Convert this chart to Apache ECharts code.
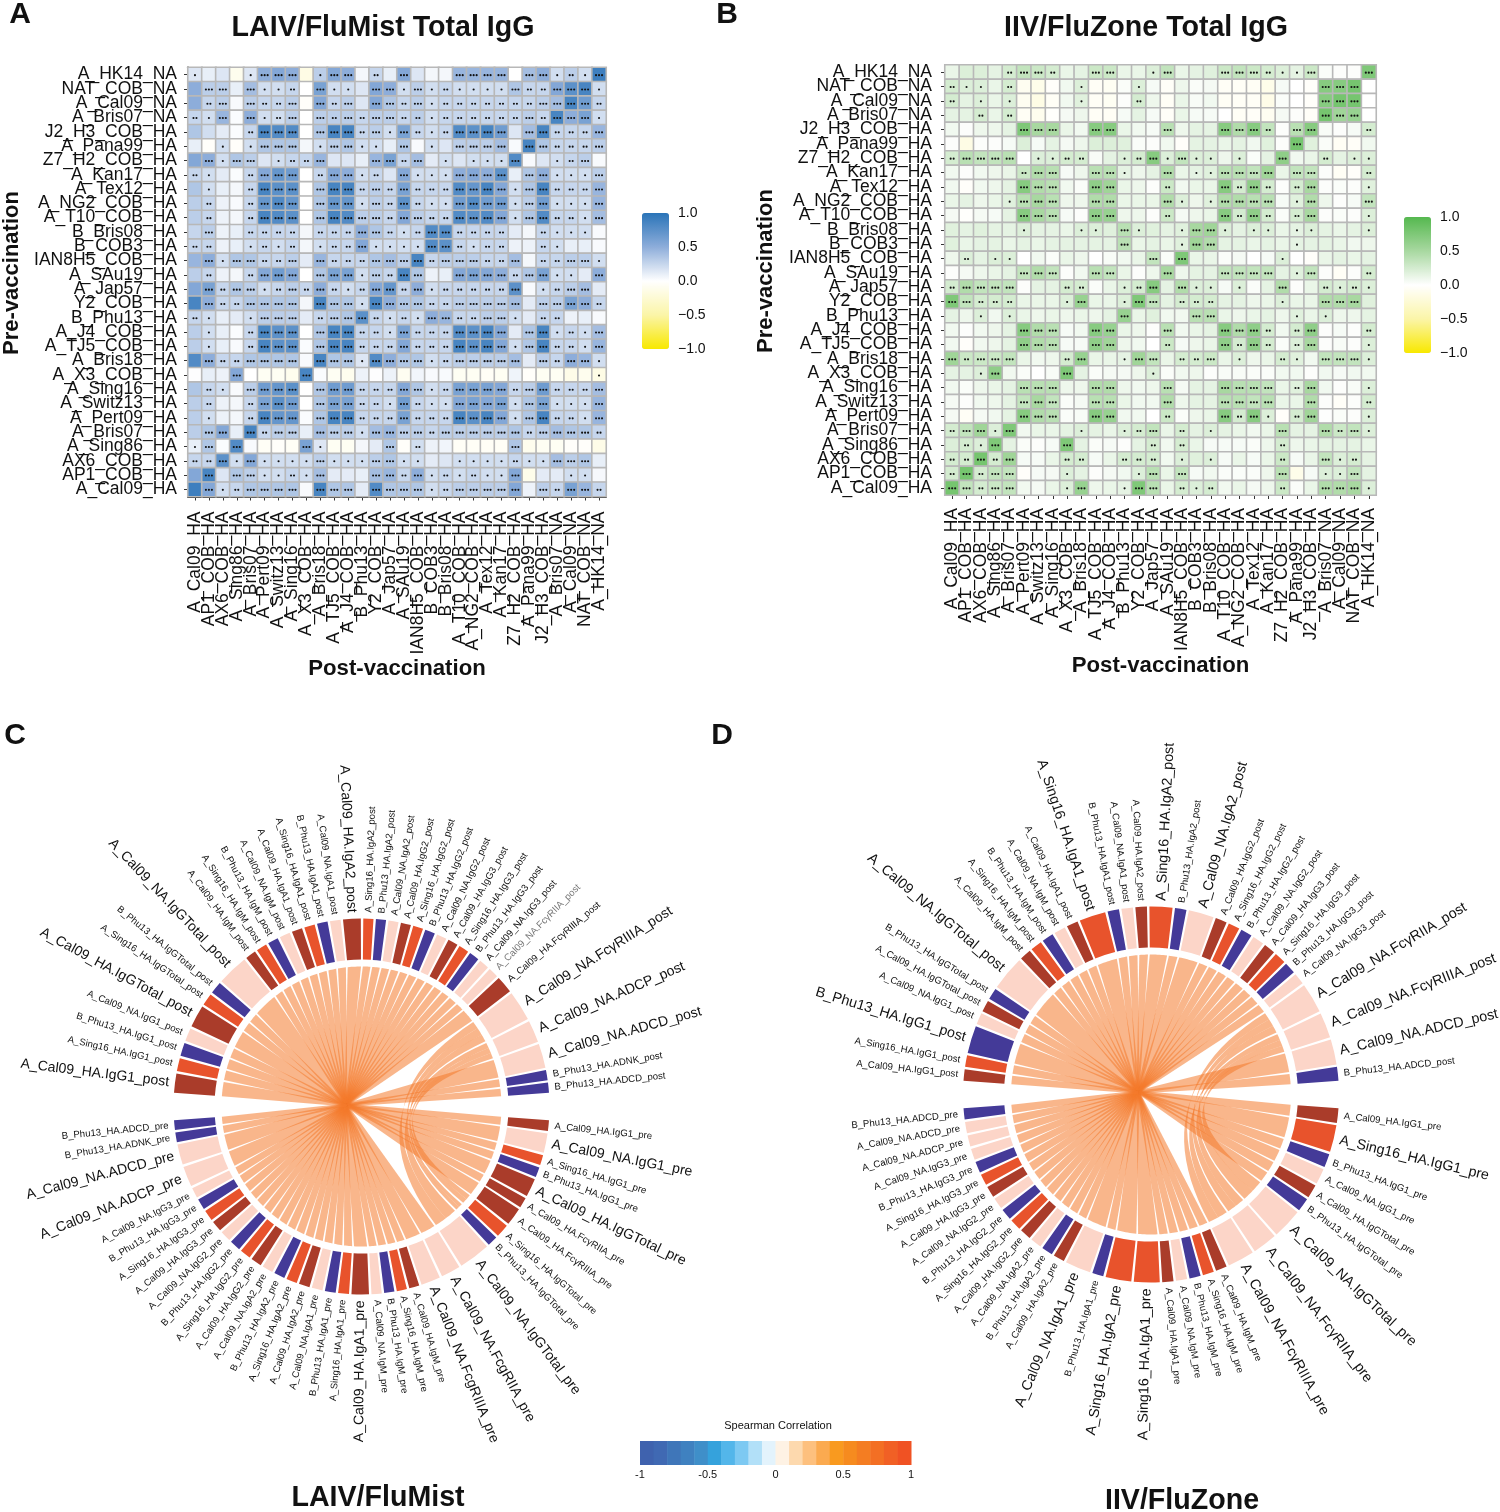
<!DOCTYPE html>
<html><head><meta charset="utf-8">
<style>html,body{margin:0;padding:0;background:#fff}#c{width:1500px;height:1512px}</style>
<script src="https://cdn.jsdelivr.net/npm/echarts@6/dist/echarts.min.js"></script>
</head><body><div id="c"></div>
<script>
const FONT = '"Liberation Sans",Arial,sans-serif';

// ---- Heatmap axes
const antigens = ["A_Cal09_HA","AP1_COB_HA","AX6_COB_HA","A_Sing86_HA","A_Bris07_HA","A_Pert09_HA","A_Switz13_HA","A_Sing16_HA","A_X3_COB_HA","A_Bris18_HA","A_TJ5_COB_HA","A_J4_COB_HA","B_Phu13_HA","Y2_COB_HA","A_Jap57_HA","A_SAu19_HA","IAN8H5_COB_HA","B_COB3_HA","B_Bris08_HA","A_T10_COB_HA","A_NG2_COB_HA","A_Tex12_HA","A_Kan17_HA","Z7_H2_COB_HA","A_Pana99_HA","J2_H3_COB_HA","A_Bris07_NA","A_Cal09_NA","NAT_COB_NA","A_HK14_NA"];

// ---- Panel A: rows top to bottom (A_HK14_NA ... A_Cal09_HA), correlation x100
const laivValues = [
[15,10,15,-10,15,50,55,50,-15,30,55,50,5,25,10,55,15,5,5,45,45,45,45,0,40,50,20,30,20,90],
[50,30,30,10,40,20,20,25,0,60,20,20,15,55,50,20,30,20,25,20,20,20,20,35,25,25,55,75,85,20],
[50,25,30,3,30,25,25,30,-3,55,25,30,15,55,35,25,30,20,25,25,25,25,25,25,25,30,40,85,65,25],
[25,20,45,2,50,20,20,30,0,30,30,30,25,30,30,25,30,20,25,25,25,25,25,25,30,25,85,50,60,20],
[35,20,12,2,25,85,80,80,0,35,85,85,25,30,20,60,25,20,25,80,75,85,65,15,40,85,25,25,25,45],
[10,-3,20,-3,20,35,35,35,5,20,30,35,20,20,10,35,3,20,15,30,30,30,40,3,85,35,25,25,25,30],
[55,50,20,35,30,15,20,25,25,45,15,15,10,45,60,25,40,12,20,15,20,20,20,80,3,15,20,25,30,3],
[25,20,12,2,25,55,70,65,0,25,55,50,20,25,15,55,20,20,20,50,55,50,75,10,35,50,20,20,20,30],
[35,20,10,5,25,85,75,75,0,35,85,85,25,30,25,60,25,25,25,80,70,85,55,20,35,85,25,25,25,45],
[30,25,8,3,25,70,80,70,0,35,70,70,20,30,25,75,25,20,20,65,80,65,65,20,30,65,20,20,20,45],
[30,25,8,5,25,85,80,75,0,35,85,80,30,30,25,55,30,25,25,80,75,80,55,20,35,80,25,25,20,40],
[25,30,8,10,25,25,25,25,5,25,25,25,50,35,25,20,25,80,80,25,25,25,25,12,5,25,20,20,20,3],
[25,25,8,10,20,25,20,25,5,20,25,25,55,20,20,20,20,80,75,25,20,25,25,8,8,25,20,10,10,3],
[45,50,20,35,35,25,25,30,12,45,25,25,25,35,40,30,85,25,30,30,30,25,25,40,5,25,25,30,30,20],
[30,25,8,5,25,55,65,55,0,35,60,60,20,30,25,85,35,8,10,55,60,55,50,25,35,60,20,20,12,50],
[55,60,25,35,30,20,25,30,25,50,25,20,25,55,70,25,50,20,25,25,25,25,25,75,3,20,25,30,40,12],
[85,50,25,25,35,35,35,35,5,85,35,35,20,85,50,35,35,25,25,30,30,30,30,40,12,30,30,60,50,25],
[25,20,10,12,20,30,30,30,12,25,30,35,75,25,20,25,20,50,45,25,25,30,30,20,12,25,25,8,10,3],
[30,20,10,2,25,85,75,75,0,35,85,85,25,25,20,60,25,25,25,80,75,85,55,12,35,85,20,25,20,40],
[30,20,10,3,25,85,75,75,2,35,85,85,25,25,25,55,25,25,25,85,75,85,55,20,35,85,25,25,20,45],
[80,50,25,25,35,35,35,35,3,85,35,35,15,80,50,35,35,20,25,30,30,30,30,40,12,30,25,50,45,20],
[1,10,8,55,0,-7,-7,-10,85,2,-7,-10,8,1,8,-8,6,3,3,-7,-7,-5,-7,7,-3,-7,-7,-13,-10,-15],
[35,25,20,3,30,65,70,75,0,35,65,65,25,25,25,55,35,20,25,60,60,60,55,25,30,65,25,25,25,40],
[30,25,8,5,25,60,75,65,0,35,60,60,25,25,20,65,25,20,20,55,60,55,60,20,35,60,20,20,20,45],
[30,20,8,5,25,85,70,70,2,35,85,85,25,25,25,60,25,25,25,85,75,85,55,20,35,85,25,25,20,45],
[30,35,55,10,85,25,30,30,10,40,30,30,20,40,45,30,30,25,30,30,30,30,30,35,25,30,40,35,35,25],
[10,35,2,80,3,-5,-3,-5,60,15,-7,-7,5,12,35,-3,20,8,6,-5,-5,-5,-5,35,-10,-7,-7,-3,-3,-13],
[25,25,75,20,55,20,20,20,20,30,20,20,20,30,35,20,20,12,15,20,20,20,20,25,20,20,40,30,35,10],
[55,85,15,35,30,20,20,25,20,40,12,12,10,40,45,25,50,20,25,20,25,20,20,55,-12,12,12,20,20,4],
[90,55,20,25,35,35,35,35,3,85,35,35,12,80,35,35,35,20,25,30,30,30,30,55,8,30,25,60,45,25]
];
// significance stars per cell, same order
const laivStars = [
"10001 33301 33020 30003 33303 31213",
"03303 11203 11033 13121 11132 23331",
"02303 22303 23033 23122 22222 33332",
"21303 12303 23233 22122 22223 23331",
"00002 33303 33231 32123 33303 32223",
"00101 33301 33110 30103 33303 32223",
"03133 01223 00033 23010 11130 01230",
"21002 33302 33120 31113 33303 31113",
"01002 33303 33232 32223 33313 32223",
"02002 33303 33132 32113 33313 31113",
"02002 33303 33332 33223 33313 32213",
"03002 22202 22332 12332 22200 21110",
"22001 21201 22311 11332 12200 21000",
"03133 22303 22233 33233 32230 22331",
"02002 33303 33132 33003 33323 31103",
"03233 12323 21233 23122 22230 12330",
"03223 33303 33133 33223 33330 33332",
"21001 33302 33321 21332 23310 22000",
"01002 33303 33221 32223 33303 31213",
"01002 33303 33222 32223 33313 32213",
"03223 33303 33133 33123 33330 32331",
"00030 00030 00000 00000 00000 00001",
"02103 33303 33222 33123 33323 32223",
"02002 33303 33221 32113 33313 31113",
"01002 33303 33222 32223 33313 32213",
"03303 23303 33133 33233 33332 33332",
"13030 00031 00003 02000 00030 00000",
"22313 11113 11133 11001 11121 13330",
"03033 11213 00033 23121 21130 00110",
"03123 33303 33033 33123 33330 32332"
];

// ---- Panel B
const iivValues = [
[12,20,20,15,25,35,30,25,12,15,30,30,12,12,20,35,12,15,18,30,35,30,25,20,15,30,3,2,2,75],
[25,20,20,12,25,-8,-12,-3,8,20,-5,-7,3,20,5,-4,10,3,6,-5,-5,-6,-12,5,0,-3,70,70,80,0],
[25,15,20,12,20,-8,-15,-5,8,18,-5,-7,2,25,10,-5,12,4,8,-6,-5,-5,-13,3,0,-3,70,80,80,0],
[15,15,25,12,25,-6,-10,-2,6,10,-5,-6,5,15,5,-4,12,5,5,0,-5,-4,-8,6,2,-4,80,55,60,0],
[8,2,10,10,15,75,50,50,12,8,70,70,12,8,5,40,10,15,15,70,45,70,35,2,40,70,4,2,5,25],
[2,-15,2,2,5,20,5,15,6,10,20,20,18,3,2,8,-3,15,15,12,15,8,18,2,80,18,3,-6,-4,8],
[25,40,35,35,40,0,20,20,25,25,4,15,20,25,70,20,35,20,20,10,20,3,15,65,8,12,25,15,20,20],
[8,2,8,10,12,30,45,40,5,10,40,40,15,10,15,45,12,15,18,40,40,35,55,12,35,35,2,-6,-3,25],
[8,-3,8,10,15,70,45,40,8,3,65,55,12,10,2,30,8,12,12,70,25,65,25,2,25,50,2,3,2,18],
[12,15,10,12,18,40,50,40,10,10,45,45,12,12,12,45,20,10,18,45,45,40,40,5,18,45,10,2,5,35],
[6,-2,6,5,15,70,50,40,5,2,65,60,10,10,2,30,6,10,12,70,25,65,25,3,25,50,2,3,2,20],
[18,15,18,15,15,20,15,15,12,20,20,18,40,20,18,15,18,50,55,20,15,20,20,12,15,20,15,12,15,20],
[18,12,15,15,12,15,12,15,15,15,15,15,40,12,15,12,18,55,45,15,15,12,15,12,15,15,15,12,8,10],
[10,20,15,20,20,0,8,3,12,10,0,4,8,12,35,3,75,12,12,3,6,0,5,20,0,-3,12,15,12,15],
[2,6,10,12,15,35,45,35,2,8,40,35,12,2,10,50,10,15,15,35,35,35,35,15,18,35,2,-5,2,25],
[25,45,35,35,35,2,15,15,25,25,3,12,20,25,70,15,45,20,20,5,20,3,15,45,2,12,25,20,25,20],
[75,35,25,25,25,12,12,12,20,60,12,12,20,75,35,15,25,25,25,15,15,10,12,20,12,12,45,45,50,18],
[15,10,20,8,20,12,10,12,10,12,10,15,60,12,18,8,8,40,40,12,10,12,15,10,18,12,20,10,10,15],
[8,2,8,10,15,70,45,40,5,8,70,60,12,10,2,40,8,12,15,70,45,65,25,8,25,65,2,5,2,25],
[8,-3,8,10,15,65,45,40,5,5,65,55,10,8,0,30,5,10,12,65,25,65,25,3,20,50,2,4,2,20],
[55,30,30,30,35,12,8,10,25,60,12,12,15,55,35,12,25,25,30,12,20,10,12,25,18,8,35,35,35,20],
[15,15,20,65,8,3,0,4,75,15,3,6,6,10,20,3,8,10,2,4,4,3,3,8,8,2,8,5,8,8],
[8,3,10,12,15,40,40,40,10,10,45,45,10,8,10,40,6,15,15,50,40,40,35,12,18,50,8,2,4,20],
[6,2,8,10,15,35,50,35,3,6,40,40,12,8,8,45,10,15,15,40,40,35,40,12,12,45,2,-4,2,25],
[6,-5,6,8,15,70,45,40,3,4,70,60,8,8,0,30,3,10,12,70,25,70,20,-3,25,55,1,3,2,20],
[25,35,55,20,75,8,12,12,15,20,15,12,20,25,35,12,25,15,20,15,12,8,12,40,15,15,45,30,35,20],
[20,25,20,75,15,3,2,5,75,15,3,5,2,15,25,8,25,12,5,5,5,3,10,25,10,12,15,15,15,12],
[25,25,80,25,55,5,5,12,25,25,5,12,25,25,25,8,20,18,20,5,12,5,12,30,5,12,35,20,25,15],
[25,80,25,35,35,-3,5,6,20,15,2,6,8,20,40,12,35,5,8,3,3,3,10,40,-12,5,20,20,35,15],
[80,35,25,30,35,8,6,12,20,60,10,12,15,75,40,12,25,20,25,8,12,6,10,30,3,12,45,45,50,20]
];
const iivStars = [
"00002 33200 33001 30003 33211 30003",
"21102 00001 00010 00000 00000 03330",
"20101 00001 00020 00000 00000 03330",
"00202 00000 00000 00000 00000 03330",
"00000 33300 33000 30003 33203 30002",
"00000 00000 00000 00000 00003 00000",
"23333 01122 00123 13110 10030 02011",
"00000 23300 33100 30113 33303 30002",
"00000 33300 33000 20003 23202 30001",
"00001 33300 33000 31013 33301 30003",
"00000 33300 33000 20003 23202 30001",
"00000 10001 10310 01331 01101 10001",
"00000 00000 00300 01330 00001 00000",
"02011 00000 00003 03000 00010 00000",
"00000 33300 33000 30003 33301 30002",
"23333 00022 00123 03110 10030 02121",
"33222 00013 00133 02220 00010 03330",
"00101 00000 00300 00330 00001 01000",
"00000 33300 33000 30003 33202 30002",
"00000 33300 33000 20003 23202 30001",
"32333 00023 00133 02230 10021 03331",
"00130 00030 00001 00000 00000 00000",
"00000 33300 33000 30003 33302 30001",
"00000 33300 33000 30003 33300 30002",
"00000 33300 33000 20003 23102 30001",
"23313 00001 00123 02010 00030 03231",
"02130 00030 00002 02000 00020 00000",
"22323 00022 00222 01010 00020 03120",
"23233 00010 00013 03000 00030 01130",
"33233 00013 00133 02120 00020 03331"
];

// colour bar ticks are drawn by their own value axes
const heatRange = [-1, 1];
const heatTickStep = 0.5;
const blueRamp  = ['#f8e800','#fbf5a8','#ffffff','#8dadda','#2a74b8'];
const greenRamp = ['#f8e800','#fbf5a8','#ffffff','#a8d8a0','#55b84f'];

// ---- Panel C: chord diagram segments. p pink, n navy, o orange, b brown
const cPostLabels = ["B_Phu13_HA.ADCD_post","B_Phu13_HA.ADNK_post","A_Cal09_NA.ADCD_post","A_Cal09_NA.ADCP_post","A_Cal09_NA.FcγRIIIA_post","A_Cal09_HA.FcγRIIIA_post","A_Cal09_NA.FcγRIIA_post","A_Cal09_NA.IgG3_post","B_Phu13_HA.IgG3_post","A_Sing16_HA.IgG3_post","A_Cal09_HA.IgG3_post","A_Cal09_NA.IgG2_post","B_Phu13_HA.IgG2_post","A_Sing16_HA.IgG2_post","A_Cal09_HA.IgG2_post","A_Cal09_NA.IgA2_post","B_Phu13_HA.IgA2_post","A_Sing16_HA.IgA2_post","A_Cal09_HA.IgA2_post","A_Cal09_NA.IgA1_post","B_Phu13_HA.IgA1_post","A_Sing16_HA.IgA1_post","A_Cal09_HA.IgA1_post","A_Cal09_NA.IgM_post","B_Phu13_HA.IgM_post","A_Sing16_HA.IgM_post","A_Cal09_HA.IgM_post","A_Cal09_NA.IgGTotal_post","B_Phu13_HA.IgGTotal_post","A_Sing16_HA.IgGTotal_post","A_Cal09_HA.IgGTotal_post","A_Cal09_NA.IgG1_post","B_Phu13_HA.IgG1_post","A_Sing16_HA.IgG1_post","A_Cal09_HA.IgG1_post"];
const cPostSizes = [1,1,2.4,2.2,3,1.7,1,1,1,1,1,1,1,1,1,1,1,1,1.75,1.05,1.05,1.05,1.05,1.05,1.05,1.05,1.05,3.1,1.2,1.2,2.2,1.3,1.3,1.3,1.9];
const cPostTones = "nnpppbppnobpnobpnobpnobpnobpnobpnob";
const cPostBig   = "00111000000000000010000000010010001";
const cPreLabels = ["A_Cal09_HA.IgG1_pre","A_Cal09_NA.IgG1_pre","A_Sing16_HA.IgG1_pre","B_Phu13_HA.IgG1_pre","A_Cal09_HA.IgGTotal_pre","A_Cal09_HA.FcγRIIA_pre","A_Cal09_HA.FcγRIIIA_pre","A_Sing16_HA.IgGTotal_pre","B_Phu13_HA.IgGTotal_pre","A_Cal09_NA.IgGTotal_pre","A_Cal09_NA.FcgRIIA_pre","A_Cal09_NA.FcgRIIIA_pre","A_Cal09_HA.IgM_pre","A_Sing16_HA.IgM_pre","B_Phu13_HA.IgM_pre","A_Cal09_NA.IgM_pre","A_Cal09_HA.IgA1_pre","A_Sing16_HA.IgA1_pre","B_Phu13_HA.IgA1_pre","A_Cal09_NA.IgA1_pre","A_Cal09_HA.IgA2_pre","A_Sing16_HA.IgA2_pre","B_Phu13_HA.IgA2_pre","A_Cal09_NA.IgA2_pre","A_Cal09_HA.IgG2_pre","A_Sing16_HA.IgG2_pre","B_Phu13_HA.IgG2_pre","A_Cal09_NA.IgG2_pre","A_Cal09_HA.IgG3_pre","A_Sing16_HA.IgG3_pre","B_Phu13_HA.IgG3_pre","A_Cal09_NA.IgG3_pre","A_Cal09_NA.ADCP_pre","A_Cal09_NA.ADCD_pre","B_Phu13_HA.ADNK_pre","B_Phu13_HA.ADCD_pre"];
const cPreSizes = [1.05,1.9,1,1,1.8,1,1.75,1.3,1,3.1,1.9,1.9,1,1,1,1,1.7,1.06,1.06,1.06,1.06,1.06,1.06,1.06,1.06,1.06,1.06,1.06,1.06,1.06,1.06,1,2,2,0.95,0.95];
const cPreTones = "bponbbbonpppbonpbonpbonpbonpbonpppnn";
const cPreBig   = "010010000111000010000000000000001100";
const cCurves = [[3,7],[3,8],[3,9],[4,7],[4,8],[4,9]];

// ---- Panel D
const dPostLabels = ["B_Phu13_HA.ADCD_post","A_Cal09_NA.ADCD_post","A_Cal09_NA.FcγRIIIA_post","A_Cal09_NA.FcγRIIA_post","A_Cal09_NA.IgG3_post","B_Phu13_HA.IgG3_post","A_Sing16_HA.IgG3_post","A_Cal09_HA.IgG3_post","A_Cal09_NA.IgG2_post","B_Phu13_HA.IgG2_post","A_Sing16_HA.IgG2_post","A_Cal09_HA.IgG2_post","A_Cal09_NA.IgA2_post","B_Phu13_HA.IgA2_post","A_Sing16_HA.IgA2_post","A_Cal09_HA.IgA2_post","A_Cal09_NA.IgA1_post","B_Phu13_HA.IgA1_post","A_Sing16_HA.IgA1_post","A_Cal09_HA.IgA1_post","A_Cal09_NA.IgM_post","B_Phu13_HA.IgM_post","A_Sing16_HA.IgM_post","A_Cal09_HA.IgM_post","A_Cal09_NA.IgGTotal_post","B_Phu13_HA.IgGTotal_post","A_Cal09_HA.IgGTotal_post","A_Cal09_NA.IgG1_post","B_Phu13_HA.IgG1_post","A_Sing16_HA.IgG1_post","A_Cal09_HA.IgG1_post"];
const dPostSizes = [1.2,2.2,2.2,2.6,1,1,1,1,1,1,1,1,2.2,1,2,1,1,1,2.3,1,1,1,1,1,3,1,1,1,2.4,1,1];
const dPostTones = "nppppnobpnobpnobpnobpnobpnbpnob";
const dPostBig   = "0111000000001010001000001000100";
const dPreLabels = ["A_Cal09_HA.IgG1_pre","A_Sing16_HA.IgG1_pre","B_Phu13_HA.IgG1_pre","A_Cal09_NA.IgG1_pre","A_Cal09_HA.IgGTotal_pre","B_Phu13_HA.IgGTotal_pre","A_Cal09_NA.IgGTotal_pre","A_Cal09_NA.FcγRIIA_pre","A_Cal09_NA.FcγRIIIA_pre","A_Cal09_HA.IgM_pre","A_Sing16_HA.IgM_pre","B_Phu13_HA.IgM_pre","A_Cal09_NA.IgM_pre","A_Cal09_HA.IgA1_pre","A_Sing16_HA.IgA1_pre","A_Sing16_HA.IgA2_pre","B_Phu13_HA.IgA1_pre","A_Cal09_NA.IgA1_pre","A_Cal09_HA.IgA2_pre","B_Phu13_HA.IgA2_pre","A_Cal09_NA.IgA2_pre","A_Cal09_HA.IgG2_pre","A_Sing16_HA.IgG2_pre","B_Phu13_HA.IgG2_pre","A_Cal09_NA.IgG2_pre","A_Cal09_HA.IgG3_pre","A_Sing16_HA.IgG3_pre","B_Phu13_HA.IgG3_pre","A_Cal09_NA.IgG3_pre","A_Cal09_NA.ADCP_pre","A_Cal09_NA.ADCD_pre","B_Phu13_HA.ADCD_pre"];
const dPreSizes = [1.3,2.4,1.2,1.4,1.2,1.2,2.7,2.2,2.4,1,1,1,1,1,2.3,2.3,1,2.3,1,1,1,1,1,1,1,1,1,1,1,1,1,1];
const dPreTones = "bonpbnpppbonpboonpbnpbonpbonpppn";
const dPreBig   = "01000011100000110100000000000000";
const dCurves = [[2,6],[2,7],[2,8],[3,6],[3,7],[3,8]];

// ---- Spearman colour key
const spearmanSteps = ['#3f62ae','#4069b3','#3f76b9','#3f81c0','#3f8fc9','#35a2dc','#53b6ea','#7dc9f2','#b2e0f8','#e3f3fc','#fef2e4','#fdd9ae','#fdc07e','#fbaa50','#f99a1f','#f68b1f','#f47d22','#f36f24','#f16025','#f05223'];
const toneColors = {p:'#fcd5c8', n:'#443a98', o:'#e8532c', b:'#aa3c2a'};

// ---- Geometry of the chord panels
const RING_OUT = 188, RING_IN = 147, RIM = 140, EDGE = 4.2, GAP = 0.75;

function layout(labels, sizes, tones, big, from, to) {
  const total = sizes.reduce((a, b) => a + b, 0);
  const dir = to > from ? 1 : -1;
  const unit = (Math.abs(to - from) - GAP * (sizes.length - 1)) / total;
  let a = from;
  return sizes.map((s, i) => {
    const a0 = a, a1 = a + dir * s * unit;
    a = a1 + dir * GAP;
    return { a0, a1, mid: (a0 + a1) / 2, label: labels[i], tone: tones[i], big: big[i] === '1' };
  });
}
const rad = d => d * Math.PI / 180;

function ringSeries(polarIndex, segs, bigSize) {
  return {
    type: 'custom', coordinateSystem: 'polar', polarIndex, silent: true, clip: false, z: 3,
    encode: { radius: 0, angle: 1 },
    data: segs.map(s => [RING_OUT, s.mid]),
    renderItem(params, api) {
      const s = segs[params.dataIndex];
      const c = api.coord([0, 0]);
      const p = api.coord([RING_OUT + 6, s.mid]);
      const right = Math.cos(rad(s.mid)) >= 0;
      const grey = s.label === 'A_Cal09_NA.FcγRIIA_post' && bigSize === 14;
      return { type: 'group', children: [
        { type: 'sector',
          shape: { cx: c[0], cy: c[1], r: RING_OUT, r0: RING_IN,
                   startAngle: -rad(Math.max(s.a0, s.a1)), endAngle: -rad(Math.min(s.a0, s.a1)) },
          style: { fill: toneColors[s.tone] } },
        { type: 'text', x: p[0], y: p[1], rotation: right ? rad(s.mid) : rad(s.mid - 180),
          style: { text: s.label, align: right ? 'left' : 'right', verticalAlign: 'middle',
                   fontSize: s.big ? bigSize : 9.6, fontFamily: FONT, fill: grey ? '#777' : '#111' } }
      ] };
    }
  };
}

function chordSeries(polarIndex, post, pre, curves, hub) {
  const curvedPost = new Set(curves.map(c => c[0]));
  const curvedPre = new Set(curves.map(c => c[1]));
  const wedges = post.filter((s, i) => !curvedPost.has(i)).concat(pre.filter((s, i) => !curvedPre.has(i)));
  const ribbons = wedges.map(s => ({ wedge: s }));
  const postN = {}, preN = {}, postI = {}, preI = {};
  curves.forEach(([a, b]) => { postN[a] = (postN[a] || 0) + 1; preN[b] = (preN[b] || 0) + 1; });
  curves.forEach(([a, b]) => {
    postI[a] = postI[a] || 0; preI[b] = preI[b] || 0;
    const sa = post[a], sb = pre[b];
    const fa = [postI[a] / postN[a], (postI[a] + 1) / postN[a]];
    const fb = [preI[b] / preN[b], (preI[b] + 1) / preN[b]];
    postI[a]++; preI[b]++;
    ribbons.push({ curve: [
      sa.a0 + (sa.a1 - sa.a0) * fa[0], sa.a0 + (sa.a1 - sa.a0) * fa[1],
      sb.a0 + (sb.a1 - sb.a0) * fb[0], sb.a0 + (sb.a1 - sb.a0) * fb[1] ] });
  });
  return {
    type: 'custom', coordinateSystem: 'polar', polarIndex, silent: true, clip: false, z: 2,
    encode: { radius: 0, angle: 1 },
    data: ribbons.map(r => [RIM, r.wedge ? r.wedge.mid : r.curve[0]]),
    renderItem(params, api) {
      const r = ribbons[params.dataIndex];
      const h = api.coord(hub);
      const arc = (a0, a1) => {
        const out = [];
        const n = Math.max(2, Math.ceil(Math.abs(a1 - a0)) + 1);
        for (let k = 0; k <= n; k++) out.push(api.coord([RIM, a0 + (a1 - a0) * k / n]));
        return out;
      };
      const quad = (p, q) => {
        const out = [];
        for (let k = 1; k < 24; k++) {
          const t = k / 24, u = 1 - t;
          out.push([u * u * p[0] + 2 * u * t * h[0] + t * t * q[0], u * u * p[1] + 2 * u * t * h[1] + t * t * q[1]]);
        }
        return out;
      };
      let points;
      if (r.wedge) {
        const A = arc(r.wedge.a0, r.wedge.a1);
        const first = A[0], last = A[A.length - 1];
        const dx = last[0] - first[0], dy = last[1] - first[1];
        const len = Math.hypot(dx, dy) || 1;
        const tip = 1.6 / len;
        points = A.concat([[h[0] + dx * tip, h[1] + dy * tip], [h[0] - dx * tip, h[1] - dy * tip]]);
      } else {
        const [a0, a1, b0, b1] = r.curve;
        const A = arc(a0, a1), B = arc(b0, b1);
        points = A.concat(quad(A[A.length - 1], B[0]), B, quad(B[B.length - 1], A[0]));
      }
      return { type: 'polygon', shape: { points }, style: { fill: '#f47a2c', opacity: 0.55 } };
    }
  };
}

function heatData(values) {
  const out = [];
  values.forEach((row, r) => row.forEach((v, c) => out.push([c, 29 - r, v / 100])));
  return out;
}
function starData(stars) {
  const out = [];
  stars.forEach((row, r) => row.replace(/ /g, '').split('').forEach((s, c) => { if (+s) out.push([c, 29 - r, +s]); }));
  return out;
}
function starSeries(idx, stars) {
  return {
    type: 'custom', xAxisIndex: idx, yAxisIndex: idx, silent: true, z: 4,
    encode: { x: 0, y: 1 }, data: starData(stars),
    renderItem(params, api) {
      const p = api.coord([api.value(0), api.value(1)]);
      const n = api.value(2);
      const kids = [];
      for (let k = 0; k < n; k++) {
        kids.push({ type: 'circle', shape: { cx: p[0] + (k - (n - 1) / 2) * 3, cy: p[1] + 0.5, r: 1.05 }, style: { fill: '#111' } });
      }
      return { type: 'group', children: kids };
    }
  };
}
function heatAxes(idx, xMargin, yMargin, nameX, nameY) {
  const lab = { fontFamily: FONT, fontSize: 17.5, color: '#111', lineHeight: 17 };
  const line = { show: true, lineStyle: { color: '#111', width: 2 } };
  const tick = { show: true, length: 4, lineStyle: { color: '#333', width: 1 }, alignWithLabel: true };
  return {
    x: { gridIndex: idx, type: 'category', data: antigens, axisLine: line, axisTick: tick,
         axisLabel: Object.assign({ rotate: 90, interval: 0, margin: xMargin }, lab),
         name: 'Post-vaccination', nameLocation: 'middle', nameGap: nameX,
         nameTextStyle: { fontFamily: FONT, fontWeight: 'bold', fontSize: 22.2, color: '#111' } },
    y: { gridIndex: idx, type: 'category', data: antigens, axisLine: line, axisTick: tick,
         axisLabel: Object.assign({ interval: 0, margin: yMargin }, lab),
         name: 'Pre-vaccination', nameLocation: 'middle', nameGap: nameY,
         nameTextStyle: { fontFamily: FONT, fontWeight: 'bold', fontSize: 22, color: '#111', padding: [0, 0, 0, 18] } }
  };
}
function barAxes(idx) {
  return {
    x: { gridIndex: idx, type: 'value', min: 0, max: 1, show: false },
    y: { gridIndex: idx, type: 'value', min: heatRange[0], max: heatRange[1], interval: heatTickStep, position: 'right', z: 20,
         splitLine: { show: false }, axisLine: { show: false },
         axisTick: { show: true, inside: true, length: 5, lineStyle: { color: '#fff', width: 1, opacity: .8 } },
         axisLabel: { margin: 9, fontFamily: FONT, fontSize: 14, color: '#111',
                      formatter: v => (v < 0 ? '−' : '') + Math.abs(v).toFixed(1) } }
  };
}

const cPost = layout(cPostLabels, cPostSizes, cPostTones, cPostBig, EDGE, 180 - EDGE);
const cPre  = layout(cPreLabels, cPreSizes, cPreTones, cPreBig, 360 - EDGE, 180 + EDGE);
const dPost = layout(dPostLabels, dPostSizes, dPostTones, dPostBig, EDGE, 180 - EDGE);
const dPre  = layout(dPreLabels, dPreSizes, dPreTones, dPreBig, 360 - EDGE, 180 + EDGE);

const A = heatAxes(0, 15, 11, 159, 165), B = heatAxes(1, 13, 13, 155, 168);
const LA = barAxes(2), LB = barAxes(3);

function ttl(text, x, y, size, weight) {
  return { text, left: x, top: y, textAlign: 'center', padding: 0,
           textStyle: { fontFamily: FONT, fontSize: size, fontWeight: weight || 'bold', color: '#111' } };
}
const gridBase = { outerBoundsMode: 'none', containLabel: false };
const chart = echarts.init(document.getElementById('c'), null, { renderer: 'canvas' });
chart.setOption({
  animation: false, backgroundColor: '#fff',
  title: [
    ttl('A', 20, 0, 30), ttl('B', 727, 0, 30), ttl('C', 15, 721, 30), ttl('D', 722, 721, 30),
    ttl('LAIV/FluMist Total IgG', 383, 14, 28.6), ttl('IIV/FluZone Total IgG', 1146, 14, 28.6),
    ttl('LAIV/FluMist', 378, 1484, 28.6), ttl('IIV/FluZone', 1182, 1487, 28.6),
    ttl('Spearman Correlation', 778, 1420, 11, 'normal')
  ],
  grid: [
    Object.assign({ left: 188, top: 67.5, width: 418, height: 429 }, gridBase),
    Object.assign({ left: 945, top: 65, width: 431, height: 430 }, gridBase),
    Object.assign({ left: 642, top: 213, width: 27, height: 136 }, gridBase),
    Object.assign({ left: 1404, top: 217, width: 27, height: 136 }, gridBase),
    Object.assign({ left: 640, top: 1441, width: 271, height: 24 }, gridBase)
  ],
  xAxis: [A.x, B.x, LA.x, LB.x,
    { gridIndex: 4, type: 'value', min: -1, max: 1, interval: 0.5, splitLine: { show: false },
      axisLine: { show: false }, axisTick: { show: false },
      axisLabel: { margin: 4, fontFamily: FONT, fontSize: 11, color: '#111', showMinLabel: true, showMaxLabel: true } }],
  yAxis: [A.y, B.y, LA.y, LB.y,
    { gridIndex: 4, type: 'value', min: 0, max: 1, show: false }],
  polar: [
    { center: [361.5, 1106.5], radius: [0, RING_OUT] },
    { center: [1151, 1094.5], radius: [0, RING_OUT] }
  ],
  angleAxis: [
    { polarIndex: 0, type: 'value', min: 0, max: 360, startAngle: 0, clockwise: false, show: false },
    { polarIndex: 1, type: 'value', min: 0, max: 360, startAngle: 0, clockwise: false, show: false }
  ],
  radiusAxis: [
    { polarIndex: 0, type: 'value', min: 0, max: RING_OUT, show: false },
    { polarIndex: 1, type: 'value', min: 0, max: RING_OUT, show: false }
  ],
  visualMap: [
    { type: 'continuous', seriesIndex: 0, min: -1, max: 1, left: 642, top: 213, itemWidth: 27, itemHeight: 136,
      calculable: false, text: ['', ''], padding: 0, itemGap: 0, hoverLink: false, inRange: { color: blueRamp } },
    { type: 'continuous', seriesIndex: 2, min: -1, max: 1, left: 1404, top: 217, itemWidth: 27, itemHeight: 136,
      calculable: false, text: ['', ''], padding: 0, itemGap: 0, hoverLink: false, inRange: { color: greenRamp } }
  ],
  series: [
    { type: 'heatmap', xAxisIndex: 0, yAxisIndex: 0, data: heatData(laivValues), silent: true, z: 2,
      itemStyle: { borderColor: '#b8b8b8', borderWidth: 1.6 } },
    starSeries(0, laivStars),
    { type: 'heatmap', xAxisIndex: 1, yAxisIndex: 1, data: heatData(iivValues), silent: true, z: 2,
      itemStyle: { borderColor: '#b8b8b8', borderWidth: 1.6 } },
    starSeries(1, iivStars),
    { type: 'custom', xAxisIndex: 4, yAxisIndex: 4, silent: true,
      data: spearmanSteps.map((c, i) => [-1 + i * 0.1, -1 + (i + 1) * 0.1]),
      encode: { x: [0, 1] },
      renderItem(params, api) {
        const p0 = api.coord([api.value(0), 1]), p1 = api.coord([api.value(1), 0]);
        return { type: 'rect', shape: { x: p0[0], y: p0[1], width: p1[0] - p0[0] + 0.5, height: p1[1] - p0[1] },
                 style: { fill: spearmanSteps[params.dataIndex] } };
      } },
    chordSeries(0, cPost, cPre, cCurves, [15.6, 174.5]),
    ringSeries(0, cPost.concat(cPre), 14),
    chordSeries(1, dPost, dPre, dCurves, [13.2, 169]),
    ringSeries(1, dPost.concat(dPre), 14.3)
  ]
});
</script></body></html>
